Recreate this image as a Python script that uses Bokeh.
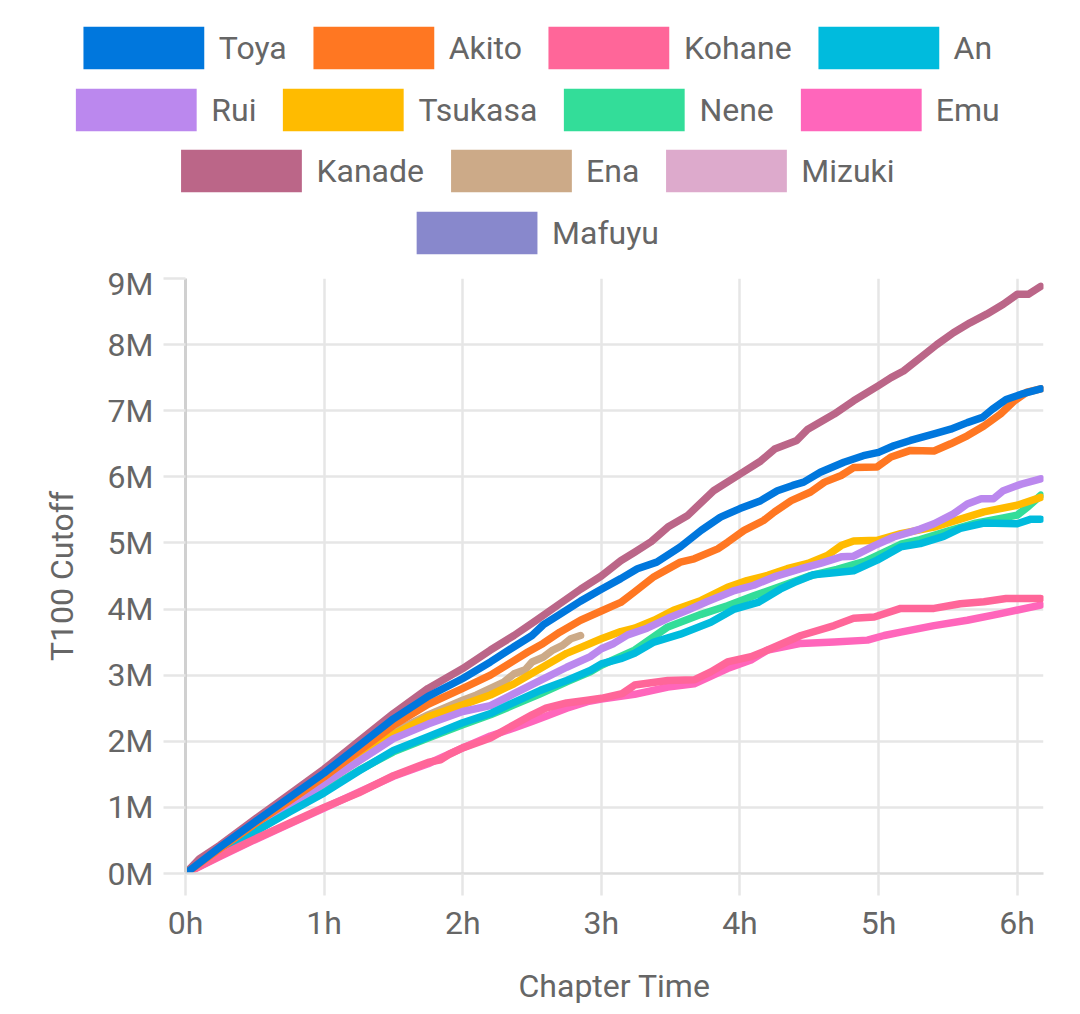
from bokeh.plotting import figure
from bokeh.models import Range1d, FixedTicker, Legend, LegendItem, ColumnDataSource
from bokeh.layouts import column
from bokeh.embed import file_html
from bokeh.resources import INLINE

# ---------------- data (hours, millions) ----------------
names = ["Toya", "Akito", "Kohane", "An", "Rui", "Tsukasa", "Nene", "Emu",
         "Kanade", "Ena", "Mizuki", "Mafuyu"]
colors = ["#0077DD", "#FF7722", "#FF6699", "#00BBDD", "#BB88EE", "#FFBB00",
          "#33DD99", "#FF66BB", "#BB6688", "#CCAA88", "#DDAACC", "#8888CC"]

toya_h = [0, 0.25, 0.5, 0.75, 1.0, 1.25, 1.5, 1.75, 2.0, 2.2, 2.37, 2.5, 2.58, 2.7, 2.85, 3.0, 3.14, 3.26, 3.4, 3.57, 3.72, 3.86, 4.0, 4.15, 4.27, 4.38, 4.46, 4.58, 4.75, 4.89, 5.0, 5.11, 5.23, 5.4, 5.52, 5.64, 5.75, 5.82, 5.92, 6.03, 6.17]
toya_m = [0, 0.4, 0.78, 1.15, 1.52, 1.93, 2.34, 2.68, 2.95, 3.2, 3.43, 3.6, 3.76, 3.92, 4.12, 4.3, 4.46, 4.61, 4.71, 4.94, 5.19, 5.39, 5.52, 5.64, 5.79, 5.87, 5.92, 6.07, 6.22, 6.32, 6.37, 6.47, 6.55, 6.65, 6.72, 6.82, 6.9, 7.02, 7.17, 7.25, 7.33]

akito_h = [0, 0.25, 0.5, 0.75, 1.0, 1.25, 1.5, 1.75, 2.0, 2.2, 2.37, 2.47, 2.58, 2.7, 2.85, 3.0, 3.14, 3.24, 3.38, 3.57, 3.67, 3.84, 3.91, 4.03, 4.17, 4.25, 4.37, 4.51, 4.61, 4.73, 4.82, 4.99, 5.09, 5.23, 5.4, 5.52, 5.64, 5.76, 5.88, 5.98, 6.07, 6.17]
akito_m = [0, 0.38, 0.75, 1.1, 1.46, 1.85, 2.24, 2.56, 2.8, 3.0, 3.22, 3.35, 3.48, 3.65, 3.83, 3.97, 4.1, 4.26, 4.49, 4.71, 4.76, 4.91, 5.01, 5.19, 5.34, 5.47, 5.64, 5.77, 5.92, 6.02, 6.14, 6.15, 6.3, 6.4, 6.39, 6.5, 6.62, 6.77, 6.95, 7.15, 7.28, 7.33]

kohane_h = [0, 0.25, 0.5, 0.75, 1.0, 1.25, 1.5, 1.75, 1.84, 1.9, 2.0, 2.2, 2.37, 2.5, 2.6, 2.75, 2.9, 3.0, 3.15, 3.24, 3.48, 3.67, 3.79, 3.91, 4.08, 4.2, 4.44, 4.68, 4.82, 4.97, 5.16, 5.4, 5.59, 5.76, 5.92, 6.17]
kohane_m = [0, 0.27, 0.52, 0.76, 1.0, 1.22, 1.48, 1.68, 1.72, 1.8, 1.9, 2.05, 2.25, 2.4, 2.5, 2.58, 2.62, 2.65, 2.72, 2.85, 2.92, 2.93, 3.05, 3.2, 3.28, 3.38, 3.6, 3.75, 3.86, 3.88, 4.01, 4.01, 4.08, 4.11, 4.16, 4.16]

an_h = [0, 0.25, 0.5, 0.75, 1.0, 1.25, 1.5, 1.75, 2.0, 2.2, 2.37, 2.56, 2.75, 2.92, 3.0, 3.14, 3.24, 3.38, 3.57, 3.79, 3.96, 4.13, 4.29, 4.39, 4.53, 4.68, 4.82, 4.99, 5.16, 5.3, 5.47, 5.59, 5.76, 6.0, 6.1, 6.17]
an_m = [0, 0.32, 0.63, 0.93, 1.22, 1.55, 1.86, 2.07, 2.28, 2.42, 2.59, 2.77, 2.92, 3.07, 3.17, 3.25, 3.33, 3.5, 3.62, 3.8, 4.0, 4.1, 4.3, 4.4, 4.52, 4.55, 4.58, 4.74, 4.94, 4.99, 5.1, 5.22, 5.3, 5.29, 5.36, 5.36]

rui_h = [0, 0.25, 0.5, 0.75, 1.0, 1.25, 1.5, 1.75, 2.0, 2.2, 2.37, 2.56, 2.75, 2.92, 3.0, 3.09, 3.19, 3.33, 3.48, 3.62, 3.76, 3.96, 4.1, 4.25, 4.44, 4.58, 4.73, 4.82, 4.97, 5.11, 5.3, 5.4, 5.54, 5.64, 5.74, 5.83, 5.9, 6.03, 6.17]
rui_m = [0, 0.35, 0.68, 1.02, 1.36, 1.7, 2.04, 2.26, 2.45, 2.54, 2.72, 2.92, 3.12, 3.28, 3.4, 3.48, 3.61, 3.71, 3.86, 3.98, 4.11, 4.28, 4.36, 4.49, 4.61, 4.69, 4.79, 4.8, 4.96, 5.09, 5.21, 5.29, 5.44, 5.59, 5.67, 5.67, 5.79, 5.89, 5.97]

tsukasa_h = [0, 0.25, 0.5, 0.75, 1.0, 1.25, 1.5, 1.75, 2.0, 2.2, 2.37, 2.56, 2.75, 2.92, 3.0, 3.14, 3.24, 3.38, 3.52, 3.72, 3.91, 4.05, 4.2, 4.34, 4.49, 4.63, 4.73, 4.82, 4.99, 5.16, 5.4, 5.59, 5.76, 6.0, 6.17]
tsukasa_m = [0, 0.37, 0.72, 1.07, 1.42, 1.77, 2.1, 2.37, 2.55, 2.7, 2.87, 3.1, 3.33, 3.48, 3.55, 3.66, 3.71, 3.83, 3.98, 4.13, 4.33, 4.43, 4.51, 4.61, 4.69, 4.81, 4.96, 5.03, 5.04, 5.14, 5.24, 5.36, 5.47, 5.57, 5.69]

nene_h = [0, 0.25, 0.5, 0.75, 1.0, 1.25, 1.5, 1.75, 2.0, 2.2, 2.37, 2.56, 2.75, 2.92, 3.0, 3.24, 3.48, 3.72, 3.91, 4.1, 4.3, 4.5, 4.7, 4.9, 5.0, 5.16, 5.3, 5.5, 5.7, 5.9, 6.0, 6.08, 6.17]
nene_m = [0, 0.33, 0.63, 0.94, 1.25, 1.56, 1.84, 2.05, 2.25, 2.4, 2.55, 2.72, 2.9, 3.05, 3.15, 3.38, 3.73, 3.92, 4.05, 4.2, 4.35, 4.5, 4.6, 4.72, 4.82, 4.98, 5.05, 5.18, 5.3, 5.38, 5.42, 5.55, 5.72]

emu_h = [0, 0.25, 0.5, 0.75, 1.0, 1.25, 1.5, 1.75, 2.0, 2.2, 2.37, 2.5, 2.6, 2.75, 2.9, 3.0, 3.24, 3.48, 3.67, 3.91, 4.08, 4.2, 4.44, 4.68, 4.92, 5.04, 5.16, 5.4, 5.64, 5.88, 6.17]
emu_m = [0, 0.26, 0.51, 0.75, 0.99, 1.23, 1.47, 1.66, 1.9, 2.08, 2.2, 2.3, 2.38, 2.5, 2.6, 2.64, 2.71, 2.82, 2.87, 3.1, 3.23, 3.38, 3.48, 3.5, 3.53, 3.6, 3.65, 3.75, 3.83, 3.93, 4.06]

kanade_h = [0, 0.1, 0.25, 0.5, 0.75, 1.0, 1.25, 1.5, 1.75, 2.0, 2.2, 2.37, 2.53, 2.68, 2.85, 3.0, 3.14, 3.24, 3.36, 3.48, 3.62, 3.81, 4.0, 4.15, 4.25, 4.41, 4.49, 4.68, 4.82, 5.0, 5.09, 5.18, 5.3, 5.42, 5.54, 5.66, 5.78, 5.9, 6.0, 6.08, 6.17]
kanade_m = [0, 0.22, 0.43, 0.82, 1.2, 1.58, 2.0, 2.42, 2.8, 3.1, 3.38, 3.6, 3.83, 4.05, 4.3, 4.5, 4.73, 4.86, 5.02, 5.24, 5.41, 5.79, 6.04, 6.24, 6.42, 6.55, 6.72, 6.95, 7.15, 7.38, 7.5, 7.6, 7.8, 8.0, 8.18, 8.33, 8.46, 8.61, 8.76, 8.76, 8.88]

ena_h = [0, 0.25, 0.5, 0.75, 1.0, 1.25, 1.5, 1.75, 2.0, 2.1, 2.2, 2.3, 2.37, 2.45, 2.5, 2.58, 2.65, 2.72, 2.78, 2.85]
ena_m = [0, 0.37, 0.73, 1.08, 1.43, 1.8, 2.14, 2.4, 2.62, 2.7, 2.8, 2.9, 3.02, 3.08, 3.2, 3.27, 3.38, 3.45, 3.55, 3.6]

mizuki_h, mizuki_m = [], []
mafuyu_h, mafuyu_m = [], []

series_h = [toya_h, akito_h, kohane_h, an_h, rui_h, tsukasa_h, nene_h, emu_h,
            kanade_h, ena_h, mizuki_h, mafuyu_h]
series_m = [toya_m, akito_m, kohane_m, an_m, rui_m, tsukasa_m, nene_m, emu_m,
            kanade_m, ena_m, mizuki_m, mafuyu_m]

legend_rows = [["Toya", "Akito", "Kohane", "An"],
               ["Rui", "Tsukasa", "Nene", "Emu"],
               ["Kanade", "Ena", "Mizuki"],
               ["Mafuyu"]]

x_tick_values = [0, 1, 2, 3, 4, 5, 6]
x_tick_labels = ["0h", "1h", "2h", "3h", "4h", "5h", "6h"]
y_tick_values = [0, 1, 2, 3, 4, 5, 6, 7, 8, 9]
y_tick_labels = ["0M", "1M", "2M", "3M", "4M", "5M", "6M", "7M", "8M", "9M"]

X_MAX = 6.19
Y_MAX = 9

FONT = "Roboto"
TXT = "#666666"
GRID = "#e6e6e6"

# ---------------- legend figure (full width, frame not aligned to the chart) ----------------
LEG_H = 264
leg = figure(width=1080, height=LEG_H, x_range=Range1d(0, 1), y_range=Range1d(0, 1),
             toolbar_location=None, output_backend="svg",
             min_border_left=0, min_border_right=20, min_border_top=0, min_border_bottom=0,
             x_axis_location=None, y_axis_location=None)
leg.frame_align = False
leg.grid.visible = False
leg.outline_line_color = None

# legend swatches (legend-only glyphs, nothing drawn)
swatch = {}
for n, c in zip(names, colors):
    src = ColumnDataSource(data=dict(l=[float("nan")], r=[float("nan")],
                                     t=[float("nan")], b=[float("nan")]))
    swatch[n] = leg.quad(left="l", right="r", top="t", bottom="b", source=src,
                         fill_color=c, line_color=None)

GLYPH_W, GLYPH_H, ROW_PITCH, ROW0_TOP = 151, 53, 61.7, 21
for i, row in enumerate(legend_rows):
    lg = Legend(items=[LegendItem(label=n, renderers=[swatch[n]]) for n in row],
                orientation="horizontal", location="top_center",
                glyph_width=GLYPH_W, glyph_height=GLYPH_H, label_height=GLYPH_H,
                label_standoff=0, spacing=11, padding=0,
                margin=int(round(ROW0_TOP + ROW_PITCH * i)),
                border_line_color=None, background_fill_alpha=0,
                label_text_font=FONT, label_text_font_size="32px",
                label_text_color=TXT)
    leg.add_layout(lg, "center")

# ---------------- chart figure ----------------
p = figure(width=1080, height=1014 - LEG_H, x_range=Range1d(0, X_MAX), y_range=Range1d(0, Y_MAX),
           toolbar_location=None, output_backend="svg",
           min_border_left=185, min_border_right=37, min_border_top=14, min_border_bottom=141)
p.frame_align = False
p.outline_line_color = None

for h, m, c in reversed(list(zip(series_h, series_m, colors))):
    if h:
        p.line(h, m, line_color=c, line_width=7.5, line_join="round", line_cap="round")

p.xaxis.ticker = FixedTicker(ticks=x_tick_values)
p.xaxis.major_label_overrides = {v: s for v, s in zip(x_tick_values, x_tick_labels)}
p.yaxis.ticker = FixedTicker(ticks=y_tick_values)
p.yaxis.major_label_overrides = {v: s for v, s in zip(y_tick_values, y_tick_labels)}

for ax in (p.xaxis, p.yaxis):
    ax.major_label_text_font = FONT
    ax.major_label_text_font_size = "32px"
    ax.major_label_text_color = TXT
    ax.axis_label_text_font = FONT
    ax.axis_label_text_font_size = "32px"
    ax.axis_label_text_font_style = "normal"
    ax.axis_label_text_color = TXT
    ax.major_tick_in = 0
    ax.major_tick_out = 22
    ax.major_tick_line_color = GRID
    ax.major_tick_line_width = 2.5
    ax.minor_tick_line_color = None

p.xaxis.axis_label = "Chapter Time"
p.yaxis.axis_label = "T100 Cutoff"
p.xaxis.axis_line_color = "#dcdcdc"
p.xaxis.axis_line_width = 2.5
p.yaxis.axis_line_color = "#d0d0d0"
p.yaxis.axis_line_width = 3
p.xaxis.major_label_standoff = 8
p.yaxis.major_label_standoff = 10
p.xaxis.axis_label_standoff = 22
p.yaxis.axis_label_standoff = 24

p.xgrid.ticker = FixedTicker(ticks=x_tick_values)
p.ygrid.ticker = FixedTicker(ticks=y_tick_values)
p.grid.grid_line_color = GRID
p.grid.grid_line_width = 2.5

layout = column(leg, p, spacing=0)
open("out.html", "w").write(file_html(layout, INLINE))
